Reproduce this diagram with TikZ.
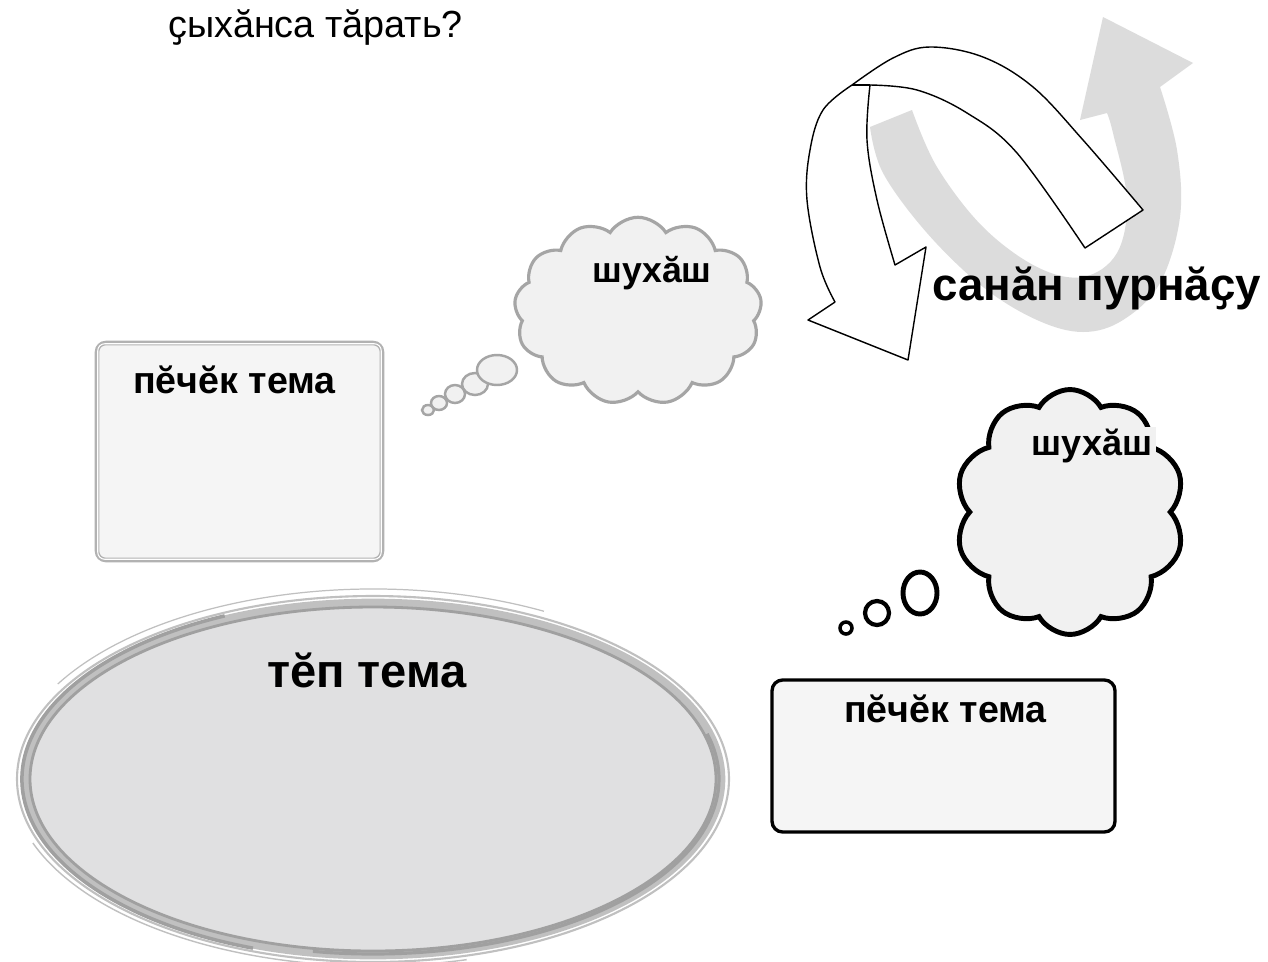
\documentclass[tikz,border=0pt]{standalone}
\usepackage{fontspec}
\setmainfont{Liberation Sans}
\usetikzlibrary{shapes.symbols,shapes.geometric}
\definecolor{arrowgray}{RGB}{220,220,220}
\definecolor{cloudfill}{RGB}{241,241,241}
\definecolor{cloudline}{RGB}{165,165,165}
\definecolor{boxfill}{RGB}{245,245,245}
\definecolor{boxline}{RGB}{178,178,178}
\definecolor{ellfill}{RGB}{224,224,225}
\definecolor{ellline}{RGB}{160,160,160}
\definecolor{ellline2}{RGB}{192,192,192}
\tikzset{
  txt/.style={inner sep=0pt, anchor=base},
  bubgray/.style={draw=cloudline, fill=cloudfill, line width=1.4pt},
  bubblack/.style={draw=black, fill=white, line width=2.4pt},
  thinkcloud/.style={cloud, fill=cloudfill, inner sep=0pt},
}
\begin{document}
\begin{tikzpicture}[x=0.02cm,y=0.02cm]
\path[use as bounding box, fill=white] (0,0) rectangle (1268,-961);

% ---- main ellipse with brush strokes
\node[ellipse, fill=ellfill, draw=ellline2, line width=5pt, minimum width=13.92cm, minimum height=7.04cm, inner sep=0pt] (mainE) at (373,-779) {};
\draw[ellline, line width=1.6pt] (373,-779) ellipse [x radius=343, y radius=172];
\draw[ellline2, line width=1.2pt] (373,-779) ellipse [x radius=356, y radius=183];
\draw[ellline2, line width=0.7pt] ([shift={(150:364 and 190)}]373,-779) arc[start angle=150, end angle=62, x radius=364, y radius=190];
\draw[ellline, line width=2pt] ([shift={(115:351 and 180)}]373,-779) arc[start angle=115, end angle=250, x radius=351, y radius=180];
\draw[ellline, line width=1.8pt] ([shift={(-100:346 and 175)}]373,-779) arc[start angle=-100, end angle=15, x radius=346, y radius=175];
\draw[ellline2, line width=0.8pt] ([shift={(200:362 and 187)}]373,-779) arc[start angle=200, end angle=285, x radius=362, y radius=187];

% ---- left box
\node[draw=boxline, line width=2.6pt, fill=boxfill, rounded corners=5pt, minimum width=5.7cm, minimum height=4.34cm, inner sep=0pt] (boxL) at (239.5,-451.5) {};
\draw[white, line width=0.6pt, rounded corners=4pt] ([shift={(3,-3)}]boxL.north west) rectangle ([shift={(-3,3)}]boxL.south east);
% ---- right box
\node[draw=black, line width=1.9pt, fill=boxfill, rounded corners=6pt, minimum width=6.86cm, minimum height=3.04cm, inner sep=0pt] (boxR) at (943.5,-756) {};

% ---- top thought cloud
\draw[bubgray] (428,-410) ellipse [x radius=6, y radius=5];
\draw[bubgray] (439,-403) ellipse [x radius=8, y radius=7];
\draw[bubgray] (455,-394) ellipse [x radius=10, y radius=9];
\draw[bubgray] (475,-384) ellipse [x radius=13, y radius=11];
\draw[bubgray] (497,-370) ellipse [x radius=20, y radius=15];
\node[thinkcloud, draw=cloudline, line width=1.8pt, cloud puffs=13, cloud puff arc=115, aspect=1.32, minimum width=4.95cm, minimum height=3.75cm] (cloudA) at (638,-311) {};

% ---- right thought cloud
\draw[bubblack, line width=2pt] (846,-628) ellipse [x radius=6, y radius=6];
\draw[bubblack] (877,-613) ellipse [x radius=12, y radius=12];
\draw[bubblack, line width=2.8pt] (920,-593) ellipse [x radius=17, y radius=21];
\node[thinkcloud, draw=black, line width=2.8pt, cloud puffs=10, cloud puff arc=120, aspect=0.94, minimum width=4.6cm, minimum height=4.9cm] (cloudB) at (1070,-512) {};

% ---- grey U arrow
\fill[arrowgray] (870,-127) -- (912,-110)
  -- plot[smooth, tension=0.6] coordinates {(912,-110) (937,-167) (983,-227) (1037,-267) (1083,-277) (1117,-253) (1127,-200) (1113,-133) (1107,-113)}
  -- (1080,-120) -- (1103,-17) -- (1193,-63)
  -- plot[smooth, tension=0.6] coordinates {(1160,-87) (1177,-150) (1180,-217) (1160,-283) (1123,-320) (1083,-332) (1037,-320) (983,-287) (927,-233) (883,-173) (870,-127)}
  -- cycle;

% ---- white ribbon arrow
\draw[fill=white, line width=0.8pt, line join=round] (1085,-248) -- (1143,-210)
  -- plot[smooth, tension=0.6] coordinates {(1143,-210) (1083,-140) (1033,-87) (983,-57) (930,-47) (893,-58) (852,-85)}
  -- plot[smooth, tension=0.6] coordinates {(852,-85) (823,-110) (810,-150) (807,-200) (820,-267) (835,-302)}
  -- (808,-320) -- (908,-360) -- (926,-247) -- (895,-265)
  -- plot[smooth, tension=0.6] coordinates {(895,-265) (877,-200) (867,-140) (870,-85)}
  -- plot[smooth, tension=0.6] coordinates {(870,-85) (917,-90) (967,-113) (1017,-153) (1085,-248)}
  -- cycle;
\draw[line width=0.8pt] (852,-85) -- (870,-85);

% ---- texts
\node[txt, font=\fontsize{21.5}{24}\selectfont] (question) at (315.5,-37) {ҫыхӑнса тӑрать?};
\node[txt, font=\bfseries\fontsize{26}{30}\selectfont] (life) at (1096.5,-300) {санӑн пурнӑҫу};
\node[txt, font=\bfseries\fontsize{20.3}{24}\selectfont] (thoughtA) at (652,-282) {шухӑш};
\node[txt, inner xsep=2pt, inner ysep=1pt, fill=cloudfill, font=\bfseries\fontsize{20.5}{24}\selectfont] (thoughtB) at (1092,-455) {шухӑш};
\node[txt, font=\bfseries\fontsize{21.4}{24}\selectfont] (subL) at (234.5,-393) {пӗчӗк тема};
\node[txt, font=\bfseries\fontsize{21.4}{24}\selectfont] (subR) at (945.5,-722) {пӗчӗк тема};
\node[txt, font=\bfseries\fontsize{26.8}{30}\selectfont] (mainT) at (367,-687) {тӗп тема};
\end{tikzpicture}
\end{document}
